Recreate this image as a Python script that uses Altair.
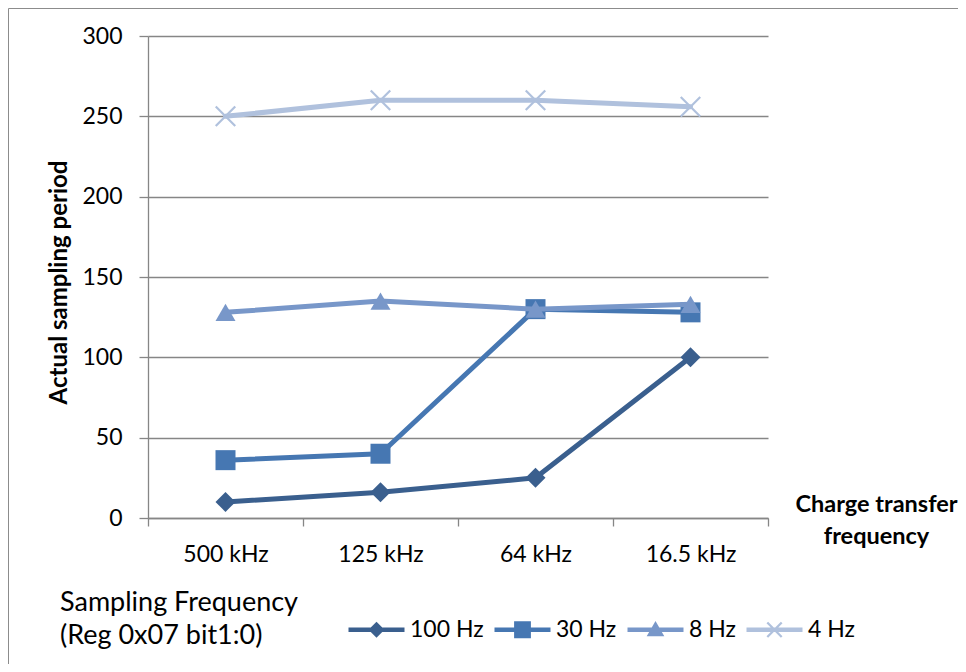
import altair as alt
import pandas as pd

categories = ["500 kHz", "125 kHz", "64 kHz", "16.5 kHz"]
series = ["100 Hz", "30 Hz", "8 Hz", "4 Hz"]
v_100hz = [10, 16, 25, 100]
v_30hz = [36, 40, 130, 128]
v_8hz = [128, 135, 130, 133]
v_4hz = [250, 260, 260, 256]
y_ticks = [0, 50, 100, 150, 200, 250, 300]
legend_title = "Sampling Frequency\n(Reg 0x07 bit1:0)"

colors = ["#3A5F8E", "#4677B2", "#7897C9", "#B0C1DD"]

rows = []
for s, vals in zip(series, [v_100hz, v_30hz, v_8hz, v_4hz]):
    for c, v in zip(categories, vals):
        rows.append({"freq": c, "series": s, "value": v})
df = pd.DataFrame(rows)

FONT = "Lato"
W, H = 620, 482
GRAY = "#868686"

X = alt.X(
    "freq:N", sort=categories, bandPosition=0.5,
    scale=alt.Scale(type="band", paddingInner=0, paddingOuter=0),
    axis=alt.Axis(
        title=["Charge transfer", "frequency"], tickBand="extent",
        domainColor=GRAY, domainWidth=1.3, tickColor=GRAY, tickWidth=1.3, tickSize=8,
        labelAngle=0, labelFont=FONT, labelFontSize=23, labelColor="black",
        labelBaseline="alphabetic", labelPadding=35,
        titleFont=FONT, titleFontSize=23.5, titleFontWeight="bold", titleColor="black",
        titleX=728, titleY=-7, titleAlign="center", titleBaseline="alphabetic",
        titleLineHeight=32, titleAngle=0,
    ),
)
Y = alt.Y(
    "value:Q",
    scale=alt.Scale(domain=[0, 300], nice=False, zero=True),
    axis=alt.Axis(
        values=y_ticks, grid=True, gridColor=GRAY, gridWidth=1.3,
        domainColor=GRAY, domainWidth=1.3, tickColor=GRAY, tickWidth=1.3, tickSize=9,
        labelFont=FONT, labelFontSize=23, labelColor="black", labelPadding=17,
        title="Actual sampling period", titleFont=FONT, titleFontSize=24,
        titleFontWeight="bold", titleColor="black", titleAngle=270,
        titleX=-89, titleY=246, titleAlign="center", titleBaseline="middle",
    ),
)

marker_shapes = ["diamond", "square", "triangle-up", "M-1,-1L1,1M-1,1L1,-1"]

layers = []
border = alt.Chart(pd.DataFrame({"a": [0]})).mark_rect(
    fill=None, stroke="#8C8C8C", strokeWidth=1
).encode(
    x=alt.value(-139.5), x2=alt.value(900), y=alt.value(-27.5), y2=alt.value(700)
)
layers.append(border)

for s, col, shp in zip(series, colors, marker_shapes):
    base = alt.Chart(df).transform_filter(alt.datum.series == s)
    line = base.mark_line(color=col, strokeWidth=5, strokeJoin="round", strokeCap="round").encode(x=X, y=Y)
    if shp.startswith("M"):
        pts = base.mark_point(shape=shp, filled=False, size=380, color=col, strokeWidth=2.2, opacity=1).encode(x=X, y=Y)
    else:
        pts = base.mark_point(shape=shp, filled=True, size=400, color=col, opacity=1).encode(x=X, y=Y)
    layers += [line, pts]

legend_paths = [
    "M-3.5,-0.28H3.5V0.28H-3.5Z M0,-1L1,0L0,1L-1,0Z",
    "M-3.5,-0.28H3.5V0.28H-3.5Z M-1.05,-1.05H1.05V1.05H-1.05Z",
    "M-3.5,-0.28H3.5V0.28H-3.5Z M0,-1.1L1.1,0.8H-1.1Z",
    "M-3.5,-0.28H3.5V0.28H-3.5Z M-0.8,-1L1,0.8L0.8,1L-1,-0.8Z M1,-0.8L-0.8,1L-1,0.8L0.8,-1Z",
]

leg = alt.Legend(
    title=None,
    orient="none", legendX=217, legendY=582, direction="horizontal", columns=4,
    symbolSize=256, symbolStrokeWidth=0, symbolOpacity=1,
    labelFont=FONT, labelFontSize=23, labelColor="black", labelOffset=22,
    columnPadding=10,
)

legend_layer = alt.Chart(df).mark_point(filled=True, opacity=1, clip=True).encode(
    x=alt.value(-3000), y=alt.value(-3000),
    color=alt.Color("series:N", scale=alt.Scale(domain=series, range=colors), legend=leg),
    shape=alt.Shape("series:N", scale=alt.Scale(domain=series, range=legend_paths), legend=leg),
)
layers.append(legend_layer)

title_layer = alt.Chart(pd.DataFrame({"t": [legend_title]})).mark_text(
    font=FONT, fontSize=27, color="black", align="left", baseline="alphabetic",
    lineBreak="\n", lineHeight=33,
).encode(text="t:N", x=alt.value(-88), y=alt.value(575))
layers.append(title_layer)

chart = alt.layer(*layers).properties(
    width=W, height=H,
    autosize=alt.AutoSizeParams(type="none"),
    padding={"left": 140, "top": 28, "right": 190, "bottom": 146},
).configure_view(stroke=None)

chart.save("out.html", embed_options={"renderer": "svg", "actions": False})
